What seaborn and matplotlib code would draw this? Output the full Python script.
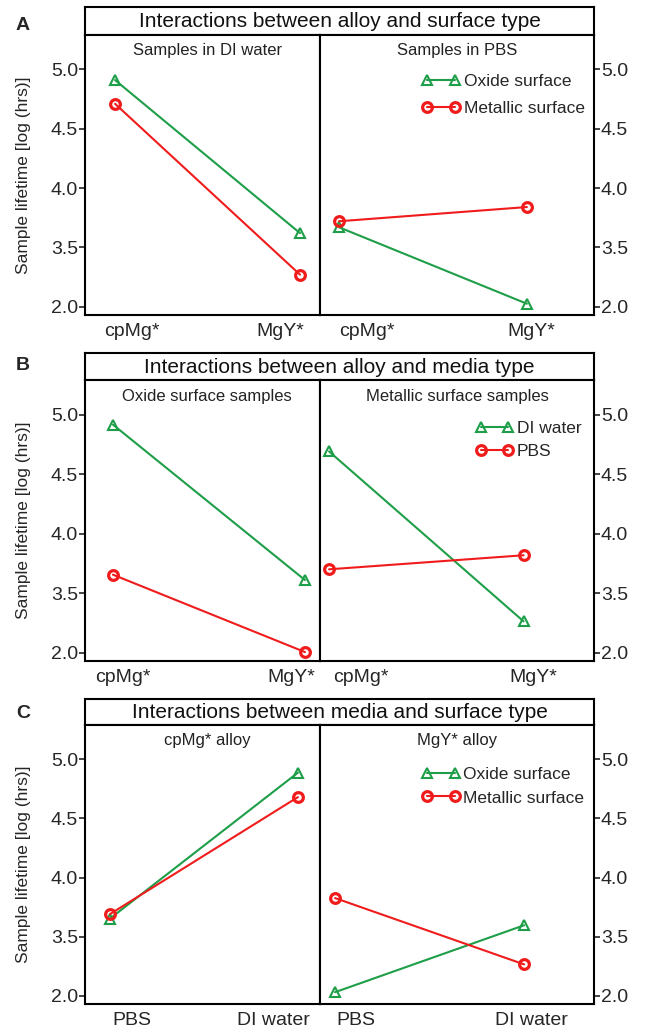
import numpy as np
import pandas as pd
import matplotlib
matplotlib.use("Agg")
import matplotlib.pyplot as plt
import seaborn as sns

sns.set_style("ticks")
plt.rcParams["font.family"] = ["Liberation Sans", "DejaVu Sans"]

# ---------------- data (values read on the plotted scale) ----------------
alloys = ["cpMg*", "MgY*"]
media = ["PBS", "DI water"]
ytick_pos = [3.0, 3.5, 4.0, 4.5, 5.0]
ytick_labels = ["2.0", "3.5", "4.0", "4.5", "5.0"]

row_titles = ["Interactions between alloy and surface type",
              "Interactions between alloy and media type",
              "Interactions between media and surface type"]
row_letters = ["A", "B", "C"]

# Panel A : x = alloy, series = surface
a_subtitles = ["Samples in DI water", "Samples in PBS"]
a_di_oxide = [4.91, 3.62]
a_di_metal = [4.71, 3.27]
a_pbs_oxide = [3.67, 3.025]
a_pbs_metal = [3.72, 3.84]

# Panel B : x = alloy, series = media
b_subtitles = ["Oxide surface samples", "Metallic surface samples"]
b_oxide_di = [4.915, 3.61]
b_oxide_pbs = [3.655, 3.005]
b_metal_di = [4.69, 3.263]
b_metal_pbs = [3.70, 3.818]

# Panel C : x = media, series = surface
c_subtitles = ["cpMg* alloy", "MgY* alloy"]
c_cpmg_oxide = [3.652, 4.887]
c_cpmg_metal = [3.69, 4.68]
c_mgy_oxide = [3.03, 3.596]
c_mgy_metal = [3.826, 3.265]

GREEN = "#1e9e48"
RED = "#f01c1c"
style_a = dict(color=GREEN, marker="^", ms=7, mew=1.5)
style_b = dict(color=RED, marker="o", ms=7, mew=2.3)

W, H = 646, 1033
fig = plt.figure(figsize=(W / 100, H / 100), dpi=100)

XL, XM, XR = 85, 320, 594

rows = [
    dict(top=7, sbot=35, bot=315, letter_y=25, xcats=alloys,
         subtitles=a_subtitles,
         series=[[("Oxide surface", a_di_oxide, style_a), ("Metallic surface", a_di_metal, style_b)],
                 [("Oxide surface", a_pbs_oxide, style_a), ("Metallic surface", a_pbs_metal, style_b)]],
         xfrac=[(0.128, 0.915), (0.069, 0.755)],
         tickfrac=[(0.20, 0.83), (0.17, 0.77)],
         leg=dict(anchor=(0.967, 0.862), spacing=0.68)),
    dict(top=353, sbot=380, bot=661, letter_y=365, xcats=alloys,
         subtitles=b_subtitles,
         series=[[("DI water", b_oxide_di, style_a), ("PBS", b_oxide_pbs, style_b)],
                 [("DI water", b_metal_di, style_a), ("PBS", b_metal_pbs, style_b)]],
         xfrac=[(0.119, 0.936), (0.033, 0.743)],
         tickfrac=[(0.16, 0.88), (0.15, 0.78)],
         leg=dict(anchor=(0.955, 0.855), spacing=0.45)),
    dict(top=699, sbot=725, bot=1004, letter_y=713, xcats=media,
         subtitles=c_subtitles,
         series=[[("Oxide surface", c_cpmg_oxide, style_a), ("Metallic surface", c_cpmg_metal, style_b)],
                 [("Oxide surface", c_mgy_oxide, style_a), ("Metallic surface", c_mgy_metal, style_b)]],
         xfrac=[(0.106, 0.906), (0.055, 0.745)],
         tickfrac=[(0.20, 0.80), (0.13, 0.77)],
         leg=dict(anchor=(0.965, 0.851), spacing=0.5)),
]

LW_FRAME = 1.5


def fig_rect(x0, x1, top, bot):
    return [x0 / W, 1 - bot / H, (x1 - x0) / W, (bot - top) / H]


for r, row in enumerate(rows):
    # strip with row title
    sax = fig.add_axes(fig_rect(XL, XR, row["top"], row["sbot"]))
    sax.set_xticks([]); sax.set_yticks([])
    for sp in sax.spines.values():
        sp.set_linewidth(LW_FRAME); sp.set_color("black")
    sax.text(0.5, 0.47, row_titles[r], ha="center", va="center", fontsize=15,
             transform=sax.transAxes, color="#111111")
    fig.text(23 / W, 1 - row["letter_y"] / H, row_letters[r], fontsize=14,
             fontweight="bold", ha="center", va="center")

    for side, (x0p, x1p) in enumerate([(XL, XM), (XM, XR)]):
        ax = fig.add_axes(fig_rect(x0p, x1p, row["sbot"], row["bot"]))
        f0, f1 = row["xfrac"][side]
        span = 1.0 / (f1 - f0)
        lo = -f0 * span
        for name, vals, st in row["series"][side]:
            df = pd.DataFrame({"x": [0, 1], "y": vals})
            sns.lineplot(data=df, x="x", y="y", ax=ax, color=st["color"],
                         marker=st["marker"], markersize=st["ms"],
                         markerfacecolor="none", markeredgecolor=st["color"],
                         markeredgewidth=st["mew"], linewidth=1.5,
                         label=name, legend=False)
        ax.set_xlim(lo, lo + span)
        ax.set_ylim(2.93, 5.29)
        t0, t1 = row["tickfrac"][side]
        ax.set_xticks([lo + t0 * span, lo + t1 * span])
        ax.set_xticklabels(row["xcats"])
        ax.set_yticks(ytick_pos)
        ax.set_yticklabels(ytick_labels)
        ax.tick_params(axis="x", length=0, pad=6, labelsize=14)
        ax.tick_params(axis="y", length=4, width=1.2, pad=1, labelsize=14,
                       direction="out")
        ax.set_xlabel("")
        for sp in ax.spines.values():
            sp.set_linewidth(LW_FRAME); sp.set_color("black")
        ax.text(0.52 if side == 0 else 0.5, 0.943, row["subtitles"][side],
                transform=ax.transAxes, ha="center", va="center",
                fontsize=12, color="#222222")
        if side == 0:
            ax.set_ylabel("Sample lifetime [log (hrs)]", fontsize=12.5, labelpad=14)
        else:
            ax.set_ylabel("")
            ax.yaxis.tick_right()
            ax.tick_params(axis="y", length=4, width=1.2, pad=1, labelsize=14)
            lg = row["leg"]
            ax.legend(loc="upper right", bbox_to_anchor=lg["anchor"],
                      frameon=False, numpoints=2, fontsize=12.5,
                      handlelength=2.2, handletextpad=0.2,
                      labelspacing=lg["spacing"], borderaxespad=0,
                      borderpad=0)

fig.savefig("out.png", dpi=100)
